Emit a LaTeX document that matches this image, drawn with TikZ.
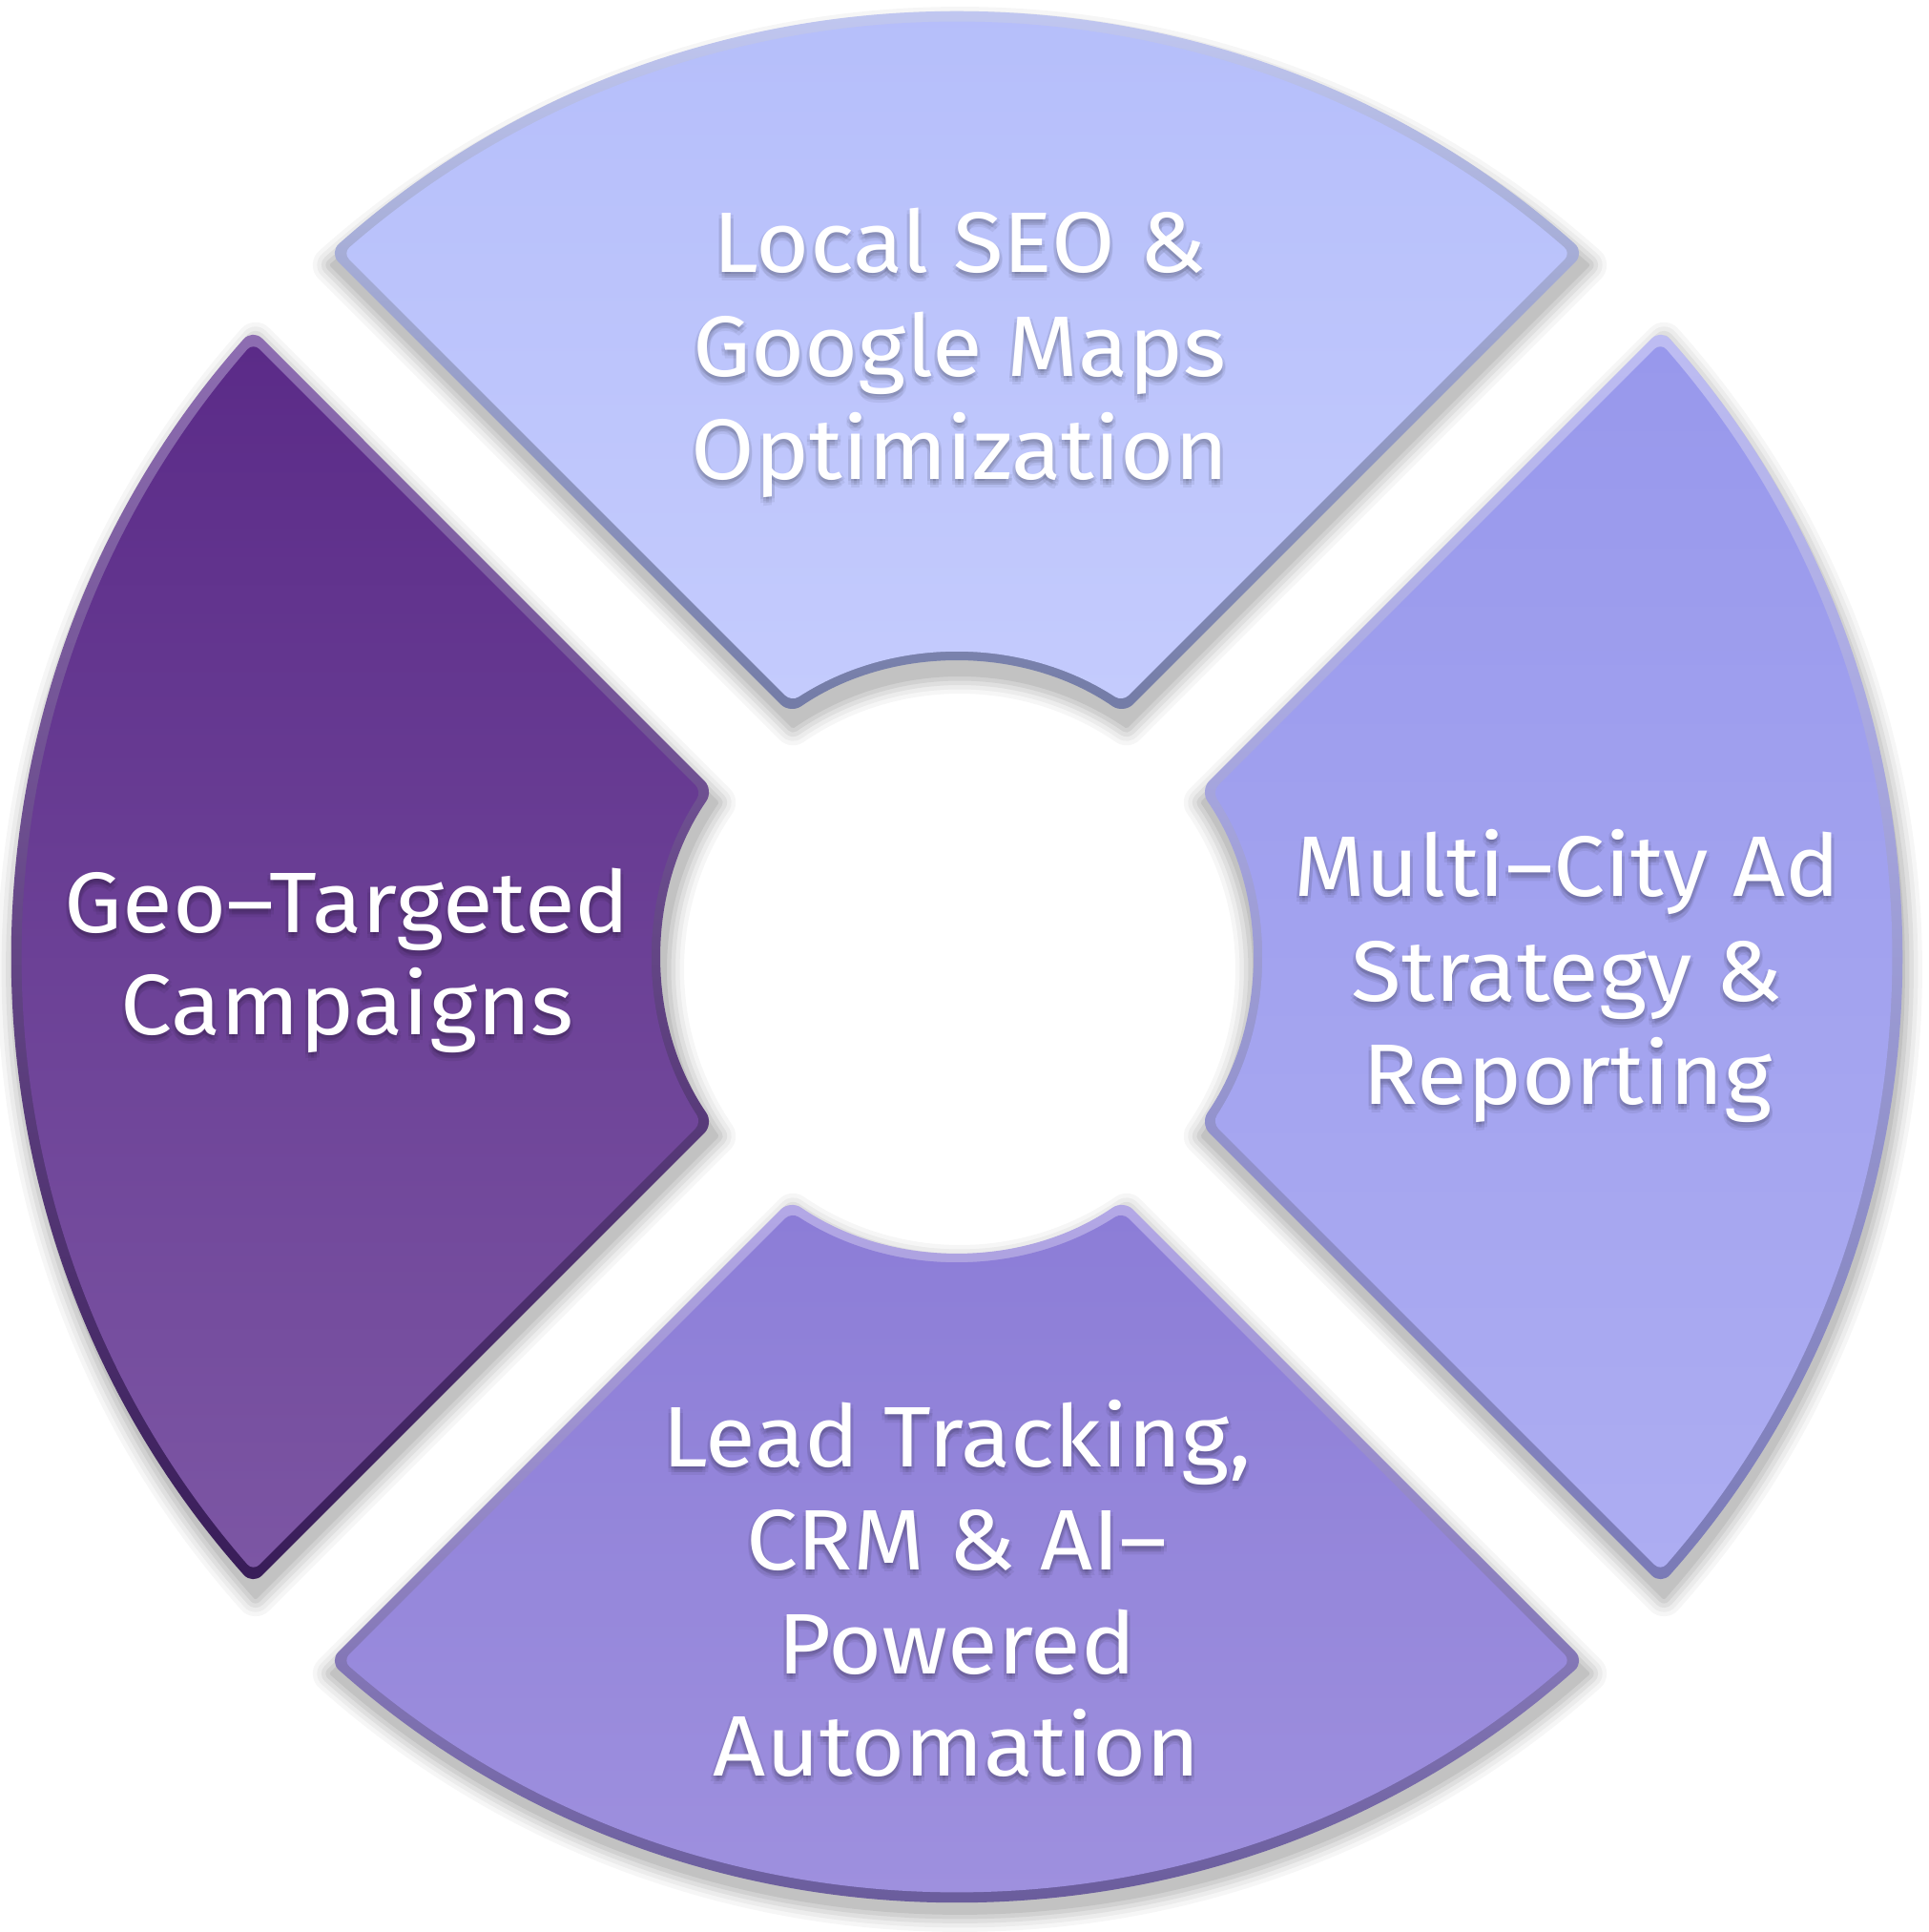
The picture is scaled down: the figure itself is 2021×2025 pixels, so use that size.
\documentclass[tikz,border=0pt]{standalone}
\usepackage{fontspec}
\setmainfont{Fira Sans}[FakeStretch=1.07]
\definecolor{topA}{HTML}{B4BDFA}
\definecolor{topB}{HTML}{C4CBFD}
\definecolor{topLa}{HTML}{C9CFF8}
\definecolor{topLb}{HTML}{737BA6}
\definecolor{rgtA}{HTML}{9898EC}
\definecolor{rgtB}{HTML}{ADADF2}
\definecolor{rgtLa}{HTML}{BEBDF3}
\definecolor{rgtLb}{HTML}{7A7AB6}
\definecolor{botA}{HTML}{8C7DD7}
\definecolor{botB}{HTML}{A092DF}
\definecolor{botLa}{HTML}{B4A9E7}
\definecolor{botLb}{HTML}{625494}
\definecolor{lftA}{HTML}{5B2B88}
\definecolor{lftB}{HTML}{7C56A4}
\definecolor{lftLa}{HTML}{8E6EB2}
\definecolor{lftLb}{HTML}{381C58}
% #1 direction, #2 outer radius, #3 inner radius, #4 outer half angle, #5 inner half angle
\newcommand\segpath[5]{(#1-#4:#2pt) arc[start angle=#1-#4, end angle=#1+#4, radius=#2pt] -- (#1+#5:#3pt) arc[start angle=#1+#5, end angle=#1-#5, radius=#3pt] -- cycle}
\newcommand\segshadow[1]{%
  \foreach \w/\o in {40/0.035,31/0.04,22/0.05,13/0.06,4/0.07}{%
    \begin{scope}[transparency group, opacity=\o]
      \filldraw[black, line width=\w pt, line join=round, shift={(3pt,-13pt)}] \segpath{#1}{989}{309}{41.719}{34.446};
    \end{scope}}}
\newcommand\segment[5]{% #1 dir, #2 border top, #3 border bottom, #4 fill top, #5 fill bottom
  \shade[top color=#2, bottom color=#3, rounded corners=14pt] \segpath{#1}{989}{309}{41.719}{34.446};
  \shade[top color=#4, bottom color=#5, rounded corners=9pt] \segpath{#1}{979}{319}{41.099}{32.949};}
\tikzset{
  txt/.style={text=white, inner sep=0pt, anchor=base, font=\fontsize{90pt}{100pt}\selectfont},
  txtshadow/.style={txt, text=black, opacity=0.06}
}
\newcommand\tline[4]{%
  \foreach \dx/\dy/\k in {0/-4/a,3/-6/b,-3/-6/c,0/-9/d,3/-2/e,-3/-2/f}{%
    \node[txtshadow] (#1-sh\k) at (#2+\dx,#3+\dy) {#4};}
  \node[txt] (#1) at (#2,#3) {#4};}
\begin{document}
\begin{tikzpicture}[x=1pt,y=1pt]
\useasboundingbox (0,0) rectangle (2021,2025);
\fill[white] (0,0) rectangle (2021,2025);
\begin{scope}[shift={(1003,1022)}]
  \segshadow{90}
  \segshadow{0}
  \segshadow{270}
  \segshadow{180}
  \segment{90}{topLa}{topLb}{topA}{topB}
  \segment{0}{rgtLa}{rgtLb}{rgtA}{rgtB}
  \segment{270}{botLa}{botLb}{botA}{botB}
  \segment{180}{lftLa}{lftLb}{lftA}{lftB}
\end{scope}
\tline{t1}{1006}{1739}{Local SEO \&}
\tline{t2}{1006}{1630}{Google Maps}
\tline{t3}{1006}{1522}{Optimization}
\tline{l1}{364}{1047}{Geo–Targeted}
\tline{l2}{364}{940}{Campaigns}
\tline{r1}{1643}{1085}{Multi–City Ad}
\tline{r2}{1643}{975}{Strategy \&}
\tline{r3}{1643}{867}{Reporting}
\tline{b1}{1003}{487}{Lead Tracking,}
\tline{b2}{1003}{379}{CRM \& AI–}
\tline{b3}{1003}{270}{Powered}
\tline{b4}{1003}{163}{Automation}
\end{tikzpicture}
\end{document}
